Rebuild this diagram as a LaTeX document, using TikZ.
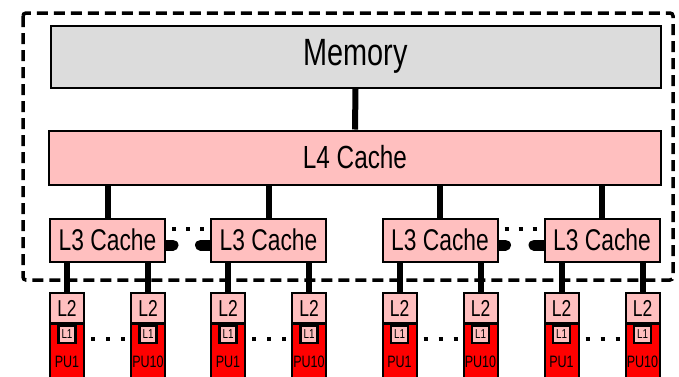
\documentclass[tikz,border=0pt]{standalone}
\usepackage{fontspec}
\setmainfont{Liberation Sans}[FakeStretch=0.76]
\usepackage{tikz}
\usetikzlibrary{calc,backgrounds}
\definecolor{memgray}{RGB}{220,220,220}
\definecolor{cachepink}{RGB}{255,191,191}
\definecolor{pured}{RGB}{255,0,0}
\tikzset{
  membox/.style={draw, line width=2pt, fill=memgray, inner sep=0, minimum width=610pt, minimum height=62pt, font=\fontsize{38}{40}\selectfont},
  lfourbox/.style={draw, line width=2pt, fill=cachepink, inner sep=0, minimum width=612pt, minimum height=54pt, font=\fontsize{32}{34}\selectfont},
  lthreebox/.style={draw, line width=2pt, fill=cachepink, inner sep=0, minimum width=115pt, minimum height=43pt, font=\fontsize{30}{32}\selectfont},
  ltwobox/.style={draw, line width=2pt, fill=cachepink, inner sep=0, minimum width=34pt, minimum height=30pt, font=\fontsize{23}{25}\selectfont},
  pubox/.style={draw, line width=2pt, fill=pured, inner sep=0, minimum width=34pt, minimum height=76pt, font=\fontsize{16.5}{18}\selectfont},
  lonebox/.style={draw, line width=2.5pt, fill=cachepink, inner sep=0, minimum width=17pt, minimum height=17pt, font=\fontsize{13}{14}\selectfont},
  link/.style={line width=6pt},
  stub/.style={line width=11pt, line cap=round},
  l3dots/.style={line width=4pt, dash pattern=on 4pt off 10pt},
  pudots/.style={line width=4pt, dash pattern=on 4pt off 11pt},
  dashbox/.style={line width=3.5pt, dash pattern=on 11pt off 6pt, rounded corners=3pt}
}
\begin{document}
\begin{tikzpicture}[x=1pt, y=-1pt] % 1単位=1px、y軸は下向き
  \clip (0,0) rectangle (679,376); % 画像の大きさ
  \draw[dashbox] (23,13) rectangle (673,280); % 点線の枠

  \node[membox] (mem) at (355.5,56.5) {Memory};
  \node[lfourbox] (lfour) at (355,157.5) {L4 Cache};
  \draw[link] (mem.south) -- (lfour.north);

  \foreach \g/\cx in {1/107.5, 2/268.5, 3/440, 4/602}{ % 4つのL3グループ
    \node[lthreebox] (l3\g) at (\cx,240) {L3 Cache};
    \node[pubox] (pua\g) at (\cx-40.5,362) {PU1}; % 下は切れる
    \node[pubox] (pub\g) at (\cx+40.5,362) {PU10};
    \node[ltwobox] (l2a\g) at (\cx-40.5,308) {L2};
    \node[ltwobox] (l2b\g) at (\cx+40.5,308) {L2};
    \node[lonebox] (l1a\g) at (\cx-40.5,334.5) {L1};
    \node[lonebox] (l1b\g) at (\cx+40.5,334.5) {L1};
    \draw[link] (l3\g.north |- lfour.south) -- (l3\g.north);
    \draw[link] (l2a\g.north |- l3\g.south) -- (l2a\g.north);
    \draw[link] (l2b\g.north |- l3\g.south) -- (l2b\g.north);
    \draw[pudots] ($(l1a\g.center -| l2a\g.east)+(6,4)$) -- ($(l1b\g.center -| l2b\g.west)+(-4,4)$); % PU間の点
  }

  \begin{scope}[on background layer] % 丸い端は箱の下に隠す
    \foreach \p/\q in {1/2, 3/4}{ % L3間の接続
      \draw[stub] ($(l3\p.east)+(-6,5)$) -- ++(13,0);
      \draw[stub] ($(l3\q.west)+(6,5)$) -- ++(-15.5,0);
    }
  \end{scope}
  \foreach \p/\q in {1/2, 3/4}
    \draw[l3dots] ($(l3\p.north east)+(6,11)$) -- ($(l3\q.north west)+(-6,11)$);
\end{tikzpicture}
\end{document}
